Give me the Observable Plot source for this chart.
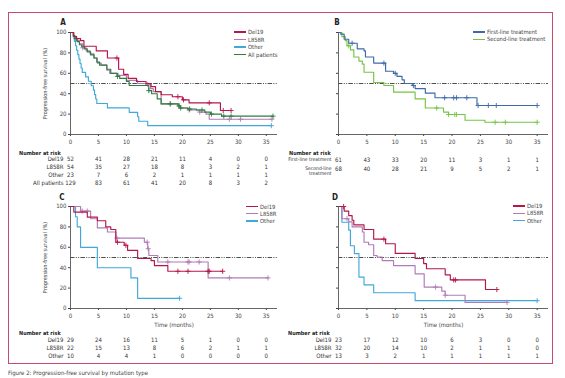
<!DOCTYPE html>
<html><head><meta charset="utf-8">
<script src="https://cdn.jsdelivr.net/npm/d3@7"></script>
<script src="https://cdn.jsdelivr.net/npm/@observablehq/plot@0.6"></script>
<style>
html,body{margin:0;padding:0;background:#fff;}
#fig{position:relative;width:565px;height:378px;overflow:hidden;font-family:"Liberation Sans Narrow","DejaVu Sans Condensed","Liberation Sans",sans-serif;color:#333;background:#fff;}
#frame{position:absolute;left:8px;top:12px;width:545px;height:352px;border:1.5px solid #c74a6f;box-sizing:border-box;}
.abs{position:absolute;white-space:nowrap;}
.letter{font-weight:bold;font-size:8px;color:#222;transform:translate(-50%,-50%);}
.nar{font-weight:bold;font-size:5.5px;color:#222;transform:translateY(-50%);}
.leg{font-size:5.8px;color:#444;display:flex;align-items:center;transform:translateY(-50%);}
.leg span.ln{display:inline-block;width:12px;height:1.3px;margin-right:2px;}
#cap{left:8px;top:369px;font-size:6px;color:#444;}
</style>
</head><body>
<div id="fig"><div id="frame"></div></div>
<script>
const FONT = '"Liberation Sans Narrow","DejaVu Sans Condensed","Liberation Sans",sans-serif';
const xTicks = [0,5,10,15,20,25,30,35];
const yTicks = [0,20,40,60,80,100];
const riskTimes = [0,5,10,15,20,25,30,35];
const median = 50;
const yTitle = "Progression-free survival (%)";
const xTitle = "Time (months)";
const caption = "Figure 2: Progression-free survival by mutation type";

const colDel19 = "#b5174a", colL858R = "#b07cb6", colOther = "#41a8da", colAll = "#2e7d3e";
const colFirst = "#3e6aa7", colSecond = "#74c544";

// Panel A: all patients by mutation
const A_del19 = [[0,100],[0.6,96],[1.1,94],[1.8,92],[2.4,86.5],[4.6,82],[6.6,75],[8.6,64],[9.5,59],[10.3,55],[11.8,52],[13.5,50],[14.4,47],[15.2,42],[16.2,39],[18.2,37],[20,34],[21.2,31],[26.8,23.5],[28.7,23.5]];
const A_del19_cens = [8.3,19.2,20.2,24.8,27.3,28.7];
const A_l858r = [[0,100],[0.5,96],[1,92],[1.6,89],[2.2,85],[2.8,82],[3.5,79],[4.2,75],[4.8,70],[5.5,68],[6.5,63],[7,60],[8.5,58],[10,53],[12,50],[13.5,49],[14.3,45],[14.8,42],[16.2,30],[19.4,26],[21,24],[23,22],[24.2,20],[24.8,15],[36,15]];
const A_l858r_cens = [2.2,13.8,17.9,21.2,23.1,28.4,30.4,36];
const A_other = [[0,100],[0.5,95.7],[0.7,91.3],[0.9,87],[1.1,82.6],[1.3,78.3],[1.5,73.9],[1.7,69.6],[1.9,65.2],[2.1,60.9],[2.7,56.5],[3.2,52.2],[3.7,47.8],[4.1,43.5],[4.3,39.1],[4.5,34.8],[4.7,30.4],[6.6,26.1],[10.5,21.7],[12,17.4],[12.2,13],[13.8,8.7],[35.9,8.7]];
const A_other_cens = [35.9];
const A_all = [[0,100],[0.5,97],[0.8,94],[1.2,91],[1.6,88],[2,86],[2.5,84],[3,81],[3.6,78],[4.2,75],[4.7,71],[5.2,68],[6.5,64],[7.2,60],[8.3,57],[8.8,55],[10,52],[10.5,48],[14,43],[14.5,40],[15.5,35],[16.2,30],[19.2,28],[19.6,26],[21,25],[22.5,24],[24,22],[25,20],[27,18],[36.2,18]];
const A_all_cens = [1,8.4,14,17.8,19.4,19.7,21.3,23.5,25.2,27.4,28.7,36.2];

// Panel B: by line of treatment
const B_first = [[0,100],[0.4,98.4],[1,93.4],[1.8,89.5],[3.3,84],[4.5,82],[4.75,76],[6.2,70],[8.3,62],[9.7,60],[10.3,57],[11.2,53.6],[11.6,50],[13,48],[13.5,45],[15.3,40.5],[17,36],[24.4,28.4],[35,28.4]];
const B_first_cens = [2.4,8,10,13.2,18.7,20.3,20.8,22.6,24.6,26.4,27.8,35];
const B_second = [[0,100],[0.6,96],[1.2,92],[1.5,87],[2.1,83],[2.7,76],[3.6,72],[4.2,69],[4.5,61],[6.2,51],[8,48],[9.7,41.5],[13.5,35],[15.3,26],[18.5,22],[19.4,19.6],[22.3,14],[25.8,12],[35,12]];
const B_second_cens = [1.8,17.3,19.4,20.5,20.8,27.6,29.4,35];

// Panel C: first-line, by mutation
const C_del19 = [[0,100],[0.6,94.5],[3,89.6],[4.8,86],[6.3,80],[7.2,77.5],[8.1,65],[9.6,62],[10.2,57],[12,49],[14.4,47],[15,42],[17.4,36.5],[27.2,36.5]];
const C_del19_cens = [8.4,9.9,19.2,21,24.6,24.8,27.2];
const C_l858r = [[0,100],[1.8,95.5],[3.6,88],[4.8,79],[6.6,75],[8.1,69],[13.2,65],[13.8,58.6],[14,52],[15.6,45.6],[24.6,30],[35.3,30]];
const C_l858r_cens = [2.1,3,8.3,13.7,13.9,17.4,21,21.2,23,28.4,35.3];
const C_other = [[0,100],[0.9,90],[1.2,80],[1.8,60],[4.8,40],[10.8,30],[12,10],[19.5,10]];
const C_other_cens = [19.5];

// Panel D: second-line, by mutation
const D_del19 = [[0,100],[1,95.5],[1.8,91],[2.4,86.5],[2.7,82],[4.5,77.5],[6.2,68],[8.3,63.5],[10,54],[13.5,49],[15,44],[15.5,39],[18.8,33],[19.7,28],[25.9,18.6],[27.9,18.6]];
const D_del19_cens = [0.9,8,20.3,20.6,27.9];
const D_l858r = [[0,100],[0.6,88],[1.8,85],[2.4,80],[4.2,75],[4.5,65],[5.3,62.5],[6.2,52],[6.8,50.5],[7.7,47],[9.7,42],[13.5,34],[15.1,21],[18.2,17],[18.8,13],[22.3,6],[29.7,6]];
const D_l858r_cens = [1.5,17.1,18.8,29.7];
const D_other = [[0,100],[0.6,84.6],[1.8,76.9],[2.1,61.5],[2.8,53.8],[3.6,30.8],[4.5,23.1],[6.2,15.4],[13.5,7.7],[35,7.7]];
const D_other_cens = [35];

// Number at risk
const A_riskRows = ["Del19","L858R","Other","All patients"];
const A_riskDel19 = [52,41,28,21,11,4,0,0];
const A_riskL858R = [54,35,27,18,8,3,2,1];
const A_riskOther = [23,7,6,2,1,1,1,1];
const A_riskAll = [129,83,61,41,20,8,3,2];
const B_riskRows = ["First-line treatment","Second-line\ntreatment"];
const B_riskFirst = [61,43,33,20,11,3,1,1];
const B_riskSecond = [68,40,28,21,9,5,2,1];
const C_riskRows = ["Del19","L858R","Other"];
const C_riskDel19 = [29,24,16,11,5,1,0,0];
const C_riskL858R = [22,15,13,8,6,2,1,1];
const C_riskOther = [10,4,4,1,0,0,0,0];
const D_riskRows = ["Del19","L858R","Other"];
const D_riskDel19 = [23,17,12,10,6,3,0,0];
const D_riskL858R = [32,20,14,10,2,1,1,0];
const D_riskOther = [13,3,2,1,1,1,1,1];

const fig = document.getElementById("fig");
const axisColor = "#555";

function sAt(curve, t) { let s = curve[0][1]; for (const p of curve) if (p[0] <= t) s = p[1]; return s; }

function put(el, x, y) { el.style.left = x + "px"; el.style.top = y + "px"; fig.appendChild(el); return el; }
function div(cls, html) { const d = document.createElement("div"); d.className = "abs " + cls; d.innerHTML = html; return d; }

const baseStyle = {fontFamily: FONT, fontSize: "6px", background: "transparent", color: "#444", overflow: "visible"};

function chart({left, top, height, marginLeft, marginRight, marginTop, marginBottom, curves, showY, timeLabel}) {
  const marks = [Plot.ruleY([median], {stroke: "#3a3a3a", strokeWidth: 0.9, strokeDasharray: "4.5,1.3,1,1.3,1,1.3"})];
  for (const c of curves) {
    marks.push(Plot.line(c.data, {x: d => d[0], y: d => d[1], curve: "step-after", stroke: c.color, strokeWidth: 1.15}));
    marks.push(Plot.dot(c.cens, {x: d => d, y: d => sAt(c.data, d), symbol: "plus", r: 1.8, stroke: c.color, strokeWidth: 0.9}));
  }
  marks.push(Plot.ruleY([0], {stroke: axisColor, strokeWidth: 0.9}), Plot.ruleX([0], {stroke: axisColor, strokeWidth: 0.9}));
  if (showY) marks.push(Plot.text([yTitle], {text: d => d, frameAnchor: "left", textAnchor: "middle", rotate: -90, dx: -25, fontSize: 5.5, fill: "#444"}));
  if (timeLabel) marks.push(Plot.text([xTitle], {text: d => d, frameAnchor: "bottom", dy: 18, fill: "#444"}));
  const svg = Plot.plot({
    width: 265, height, marginLeft, marginRight, marginTop, marginBottom,
    style: baseStyle,
    x: {domain: [0, 37], ticks: xTicks, tickSize: 2, tickPadding: 3, label: null, tickFormat: d => d},
    y: {domain: [0, 100], ticks: yTicks, tickSize: 2, tickPadding: 2, label: null, tickFormat: showY ? (d => d) : (() => "")},
    marks
  });
  svg.style.position = "absolute";
  put(svg, left, top);
}

function table({left, top, height, marginLeft, marginRight, marginTop, marginBottom, rows, values, multiline, labelSize}) {
  const data = rows.flatMap((r, i) => riskTimes.map((t, j) => ({row: r, t, n: values[i][j]})));
  const svg = Plot.plot({
    width: 265, height, marginLeft, marginRight, marginTop, marginBottom,
    style: baseStyle,
    x: {domain: [0, 37], axis: null},
    y: {type: "point", domain: rows, padding: 0, axis: null},
    marks: [
      Plot.text(data, {x: "t", y: "row", text: "n", fill: "#333"}),
      Plot.text(rows, {y: d => d, text: d => d, frameAnchor: "left", textAnchor: "end", dx: -7, fill: "#333",
        fontSize: labelSize || 6,
        lineAnchor: multiline ? "top" : "middle", dy: multiline ? -2.6 : 0, lineHeight: 0.95})
    ]
  });
  svg.style.position = "absolute";
  put(svg, left, top);
}

function legend(x, y0, step, items) {
  items.forEach((it, i) => {
    put(div("leg", `<span class="ln" style="background:${it.color}"></span>${it.label}`), x, y0 + i * step);
  });
}

// Panel A
chart({left: 20, top: 18, height: 132, marginLeft: 50, marginRight: 8, marginTop: 14, marginBottom: 16, showY: true, timeLabel: false,
  curves: [{data: A_other, cens: A_other_cens, color: colOther}, {data: A_l858r, cens: A_l858r_cens, color: colL858R},
           {data: A_all, cens: A_all_cens, color: colAll}, {data: A_del19, cens: A_del19_cens, color: colDel19}]});
// Panel B
chart({left: 288, top: 18, height: 132, marginLeft: 50, marginRight: 5, marginTop: 14, marginBottom: 16, showY: false, timeLabel: false,
  curves: [{data: B_second, cens: B_second_cens, color: colSecond}, {data: B_first, cens: B_first_cens, color: colFirst}]});
// Panel C
chart({left: 20, top: 193, height: 141, marginLeft: 50, marginRight: 8, marginTop: 13, marginBottom: 26, showY: true, timeLabel: true,
  curves: [{data: C_other, cens: C_other_cens, color: colOther}, {data: C_l858r, cens: C_l858r_cens, color: colL858R},
           {data: C_del19, cens: C_del19_cens, color: colDel19}]});
// Panel D
chart({left: 288, top: 193, height: 141, marginLeft: 50, marginRight: 5, marginTop: 13, marginBottom: 26, showY: false, timeLabel: true,
  curves: [{data: D_other, cens: D_other_cens, color: colOther}, {data: D_l858r, cens: D_l858r_cens, color: colL858R},
           {data: D_del19, cens: D_del19_cens, color: colDel19}]});

// Risk tables
table({left: 20, top: 150, height: 40, marginLeft: 50, marginRight: 8, marginTop: 9, marginBottom: 7, rows: A_riskRows,
  values: [A_riskDel19, A_riskL858R, A_riskOther, A_riskAll]});
table({left: 288, top: 150, height: 40, marginLeft: 50, marginRight: 5, marginTop: 9.5, marginBottom: 21, rows: B_riskRows,
  values: [B_riskFirst, B_riskSecond], multiline: true, labelSize: 5});
table({left: 20, top: 330, height: 34, marginLeft: 50, marginRight: 8, marginTop: 9.5, marginBottom: 7, rows: C_riskRows,
  values: [C_riskDel19, C_riskL858R, C_riskOther]});
table({left: 288, top: 330, height: 34, marginLeft: 50, marginRight: 5, marginTop: 9.5, marginBottom: 7, rows: D_riskRows,
  values: [D_riskDel19, D_riskL858R, D_riskOther]});

put(div("nar", "Number at risk"), 19, 152.5);
put(div("nar", "Number at risk"), 289, 152.5);
put(div("nar", "Number at risk"), 19, 333);
put(div("nar", "Number at risk"), 288, 333);

// Letters
put(div("letter", "A"), 63, 22);
put(div("letter", "B"), 337, 22);
put(div("letter", "C"), 62, 197);
put(div("letter", "D"), 335, 197);

// Legends
legend(234, 32, 7.5, [{label: "Del19", color: colDel19}, {label: "L858R", color: colL858R}, {label: "Other", color: colOther}, {label: "All patients", color: colAll}]);
legend(473, 32, 7.3, [{label: "First-line treatment", color: colFirst}, {label: "Second-line treatment", color: colSecond}]);
legend(246, 206.5, 7.3, [{label: "Del19", color: colDel19}, {label: "L858R", color: colL858R}, {label: "Other", color: colOther}]);
legend(513, 206, 7.3, [{label: "Del19", color: colDel19}, {label: "L858R", color: colL858R}, {label: "Other", color: colOther}]);

put(div("", caption), 8, 369).id = "cap";
</script>
</body></html>
